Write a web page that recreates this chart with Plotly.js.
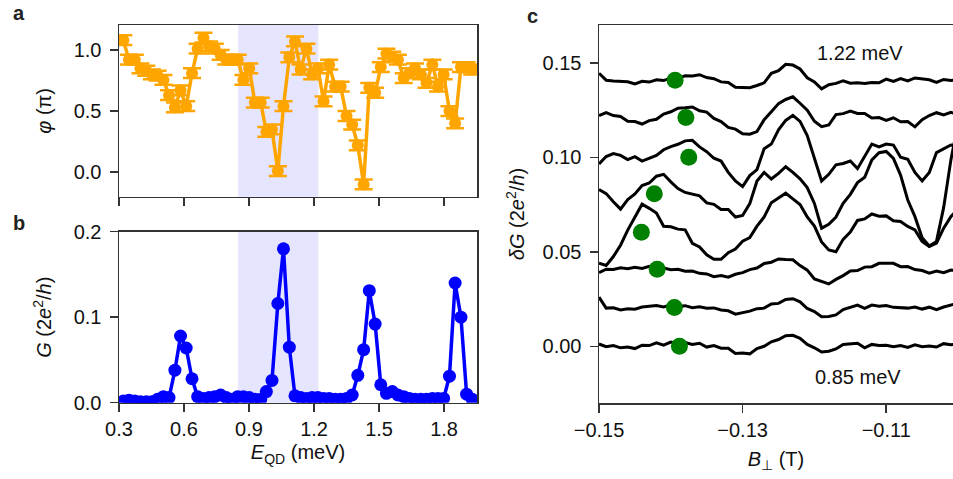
<!DOCTYPE html>
<html>
<head>
<meta charset="utf-8">
<script src="https://cdn.plot.ly/plotly-3.0.1.min.js"></script>
<style>html,body{margin:0;padding:0;background:#fff;}#chart{width:953px;height:479px;}</style>
</head>
<body>
<div id="chart"></div>
<script>
// ---- Panel a / b data (shared energy axis, meV) ----
const energy = [0.320,0.346,0.373,0.399,0.426,0.452,0.478,0.505,0.531,0.558,0.584,0.610,0.637,0.663,0.690,0.716,0.742,0.769,0.795,0.822,0.848,0.874,0.901,0.927,0.954,0.980,1.006,1.033,1.059,1.086,1.112,1.138,1.165,1.191,1.218,1.244,1.270,1.297,1.323,1.350,1.376,1.402,1.429,1.455,1.482,1.508,1.534,1.561,1.587,1.614,1.640,1.666,1.693,1.719,1.746,1.772,1.798,1.825,1.851,1.878,1.904,1.930];
const phase = [1.08,0.92,0.92,0.85,0.83,0.80,0.79,0.755,0.63,0.53,0.67,0.54,0.81,1.01,1.10,1.03,1.01,0.96,0.92,0.92,0.92,0.755,0.85,0.57,0.57,0.33,0.35,0.01,0.54,0.94,1.07,0.84,1.01,0.80,0.85,0.58,0.88,0.70,0.70,0.46,0.39,0.22,-0.10,0.69,0.65,0.86,0.97,0.945,0.92,0.77,0.81,0.85,0.80,0.73,0.88,0.70,0.80,0.50,0.40,0.86,0.86,0.84];
const phaseErr = [0.04,0.04,0.04,0.04,0.04,0.04,0.04,0.04,0.04,0.04,0.04,0.04,0.04,0.04,0.04,0.04,0.04,0.04,0.04,0.04,0.04,0.04,0.04,0.04,0.04,0.04,0.04,0.04,0.04,0.04,0.04,0.04,0.04,0.04,0.04,0.04,0.04,0.04,0.04,0.04,0.04,0.04,0.04,0.04,0.04,0.04,0.04,0.04,0.04,0.04,0.04,0.04,0.04,0.04,0.04,0.04,0.04,0.04,0.04,0.04,0.04,0.04];
const conductance = [0.002,0.003,0.002,0.001,0.001,0.001,0.004,0.007,0.006,0.038,0.078,0.064,0.028,0.007,0.005,0.006,0.007,0.009,0.006,0.004,0.007,0.007,0.006,0.004,0.004,0.013,0.026,0.116,0.180,0.065,0.008,0.006,0.005,0.006,0.006,0.005,0.005,0.004,0.004,0.005,0.009,0.032,0.062,0.131,0.092,0.021,0.011,0.013,0.009,0.007,0.005,0.004,0.004,0.004,0.005,0.005,0.005,0.031,0.140,0.100,0.010,0.004];
const shadeRange = [0.85, 1.22];
const xTicksE = [0.3,0.6,0.9,1.2,1.5,1.8];

// ---- Panel c data ----
const bField = [-0.150,-0.149,-0.148,-0.147,-0.146,-0.145,-0.144,-0.143,-0.142,-0.141,-0.140,-0.139,-0.138,-0.137,-0.136,-0.135,-0.134,-0.133,-0.132,-0.131,-0.130,-0.129,-0.128,-0.127,-0.126,-0.125,-0.124,-0.123,-0.122,-0.121,-0.120,-0.119,-0.118,-0.117,-0.116,-0.115,-0.114,-0.113,-0.112,-0.111,-0.110,-0.109,-0.108,-0.107,-0.106,-0.105,-0.104,-0.103,-0.102,-0.101,-0.100];
const curve085 = [0.0012,-0.0002,0.0004,-0.0008,-0.0004,-0.0012,0.0006,0.0004,0.0018,0.0006,0.0022,0.0014,0.0020,0.0010,0.0016,-0.0004,0.0004,-0.0010,-0.0010,-0.0038,-0.0036,-0.0040,-0.0012,0.0000,0.0024,0.0036,0.0056,0.0058,0.0042,0.0010,-0.0008,-0.0030,-0.0026,-0.0014,0.0010,0.0014,0.0016,-0.0008,0.0010,0.0004,0.0006,-0.0002,0.0004,-0.0006,0.0008,-0.0002,0.0002,-0.0004,0.0014,0.0008,0.0014];
const curve2 = [0.0260,0.0202,0.0204,0.0192,0.0199,0.0196,0.0208,0.0210,0.0216,0.0208,0.0218,0.0210,0.0215,0.0204,0.0209,0.0201,0.0203,0.0192,0.0188,0.0170,0.0178,0.0186,0.0199,0.0202,0.0224,0.0227,0.0248,0.0252,0.0235,0.0200,0.0184,0.0157,0.0158,0.0166,0.0194,0.0206,0.0218,0.0201,0.0218,0.0212,0.0216,0.0206,0.0203,0.0202,0.0208,0.0197,0.0207,0.0194,0.0208,0.0218,0.0228];
const curve3 = [0.0390,0.0408,0.0406,0.0416,0.0410,0.0418,0.0412,0.0423,0.0412,0.0414,0.0405,0.0408,0.0397,0.0398,0.0386,0.0383,0.0368,0.0374,0.0366,0.0381,0.0390,0.0406,0.0414,0.0438,0.0445,0.0462,0.0459,0.0458,0.0427,0.0403,0.0356,0.0341,0.0330,0.0354,0.0374,0.0399,0.0401,0.0419,0.0421,0.0439,0.0438,0.0439,0.0421,0.0422,0.0406,0.0401,0.0387,0.0398,0.0389,0.0403,0.0401];
const curve4 = [0.0440,0.0428,0.0475,0.0535,0.0615,0.0685,0.0752,0.0730,0.0705,0.0635,0.0632,0.0620,0.0616,0.0545,0.0526,0.0484,0.0460,0.0460,0.0495,0.0515,0.0556,0.0575,0.0636,0.0684,0.0760,0.0785,0.0810,0.0780,0.0750,0.0684,0.0636,0.0552,0.0510,0.0500,0.0566,0.0604,0.0666,0.0674,0.0700,0.0688,0.0690,0.0664,0.0660,0.0634,0.0616,0.0555,0.0528,0.0546,0.0625,0.0686,0.0724];
const curve5 = [0.0830,0.0808,0.0765,0.0726,0.0776,0.0806,0.0851,0.0864,0.0900,0.0910,0.0870,0.0835,0.0814,0.0804,0.0796,0.0759,0.0751,0.0724,0.0724,0.0684,0.0692,0.0755,0.0875,0.0920,0.0885,0.0915,0.0950,0.0920,0.0886,0.0840,0.0756,0.0625,0.0646,0.0684,0.0756,0.0804,0.0866,0.0894,0.0986,0.1024,0.1031,0.0994,0.0906,0.0774,0.0686,0.0574,0.0531,0.0555,0.0735,0.0985,0.1180];
const curve6 = [0.0965,0.1004,0.1020,0.1010,0.0988,0.1003,0.0980,0.0995,0.1010,0.1040,0.1057,0.1069,0.1087,0.1090,0.1055,0.1030,0.0995,0.0980,0.0920,0.0875,0.0845,0.0903,0.0935,0.1045,0.1070,0.1145,0.1195,0.1222,0.1190,0.1115,0.0995,0.0875,0.0910,0.0960,0.0967,0.0980,0.0940,0.1005,0.1070,0.1055,0.1070,0.1065,0.1000,0.0989,0.0920,0.0875,0.0920,0.1025,0.1045,0.1065,0.1060];
const curve7 = [0.1220,0.1236,0.1221,0.1216,0.1191,0.1189,0.1176,0.1194,0.1201,0.1229,0.1241,0.1260,0.1262,0.1266,0.1246,0.1239,0.1206,0.1189,0.1158,0.1149,0.1124,0.1122,0.1136,0.1199,0.1241,0.1284,0.1306,0.1320,0.1286,0.1249,0.1191,0.1162,0.1171,0.1226,0.1231,0.1244,0.1232,0.1232,0.1208,0.1210,0.1195,0.1209,0.1188,0.1189,0.1161,0.1199,0.1221,0.1236,0.1224,0.1238,0.1226];
const curve122 = [0.1445,0.1408,0.1404,0.1401,0.1400,0.1388,0.1402,0.1398,0.1410,0.1406,0.1420,0.1416,0.1432,0.1430,0.1437,0.1422,0.1416,0.1399,0.1396,0.1371,0.1370,0.1368,0.1380,0.1394,0.1444,0.1458,0.1492,0.1488,0.1467,0.1421,0.1399,0.1362,0.1384,0.1391,0.1405,0.1392,0.1394,0.1391,0.1396,0.1394,0.1414,0.1401,0.1416,0.1404,0.1420,0.1415,0.1410,0.1396,0.1412,0.1406,0.1410];
const curvesC = [curve085, curve2, curve3, curve4, curve5, curve6, curve7, curve122];
const dotB = [-0.1388,-0.1395,-0.1419,-0.1441,-0.1423,-0.1375,-0.1379,-0.1394];
const dotG = [0.0000,0.0205,0.0408,0.0604,0.0807,0.1000,0.1210,0.1408];
const xTicksB = [-0.15,-0.13,-0.11];
const yTicksC = [0,0.05,0.10,0.15];

const W = 953, H = 479;
const FONT = 'Liberation Sans, Arial, sans-serif';
const AXC = '#333333';
const px = (v) => v / W;
const py = (v) => 1 - v / H;

const traces = [];
traces.push({
  x: energy, y: phase, xaxis: 'x', yaxis: 'y', type: 'scatter', mode: 'lines+markers',
  line: {color: '#FFA500', width: 3.5}, marker: {color: '#FFA500', size: 12},
  error_y: {type: 'data', array: phaseErr, visible: true, color: '#FFA500', thickness: 2.5, width: 9},
  showlegend: false, hoverinfo: 'x+y'
});
traces.push({
  x: energy, y: conductance, xaxis: 'x2', yaxis: 'y2', type: 'scatter', mode: 'lines+markers',
  line: {color: '#0000FF', width: 3.5}, marker: {color: '#0000FF', size: 13},
  showlegend: false
});
curvesC.forEach((c) => {
  traces.push({x: bField, y: c, xaxis: 'x3', yaxis: 'y3', type: 'scatter', mode: 'lines',
    line: {color: '#000000', width: 3}, showlegend: false});
});
traces.push({x: dotB, y: dotG, xaxis: 'x3', yaxis: 'y3', type: 'scatter', mode: 'markers',
  marker: {color: '#008000', size: 17}, showlegend: false});

const tickFont = {family: FONT, size: 20, color: '#111'};
const titleFont = {family: FONT, size: 20, color: '#111'};
const baseAxis = {showline: true, linecolor: AXC, linewidth: 1.5, mirror: true, ticks: 'outside',
  ticklen: 8, tickwidth: 1.5, tickcolor: AXC, showgrid: false, zeroline: false, tickfont: tickFont, automargin: false};

const layout = {
  width: W, height: H, margin: {l: 0, r: 0, t: 0, b: 0}, paper_bgcolor: '#fff', plot_bgcolor: '#fff',
  font: {family: FONT, size: 20, color: '#111'},
  xaxis: Object.assign({}, baseAxis, {domain: [px(119), px(477)], range: [0.3, 1.952], tickvals: xTicksE, showticklabels: false, anchor: 'y'}),
  yaxis: Object.assign({}, baseAxis, {domain: [py(196.7), py(25)], range: [-0.2, 1.204], tickvals: [0, 0.5, 1.0], tickformat: '.1f', anchor: 'x', ticklabelstandoff: 4,
    title: {text: '<i>φ</i> (π)', font: titleFont, standoff: 16}}),
  xaxis2: Object.assign({}, baseAxis, {domain: [px(119), px(477)], range: [0.3, 1.952], tickvals: xTicksE, tickformat: '.1f', anchor: 'y2',
    title: {text: '<i>E</i><sub>QD</sub> (meV)', font: titleFont, standoff: 6}}),
  yaxis2: Object.assign({}, baseAxis, {domain: [py(402.7), py(231.7)], range: [0, 0.2], tickvals: [0, 0.1, 0.2], tickformat: '.1f', anchor: 'x2', ticklabelstandoff: 4,
    title: {text: '<i>G</i> (2<i>e</i><sup>2</sup>/<i>h</i>)', font: titleFont, standoff: 16}}),
  xaxis3: Object.assign({}, baseAxis, {domain: [px(599), 1], range: [-0.15, -0.1007], tickvals: xTicksB, tickformat: '.2f', anchor: 'y3',
    title: {text: '<i>B</i><sub>⊥</sub> (T)', font: titleFont, standoff: 12}}),
  yaxis3: Object.assign({}, baseAxis, {domain: [py(403), py(25)], range: [-0.03, 0.17], tickvals: yTicksC, tickformat: '.2f', anchor: 'x3', ticklabelstandoff: 4,
    title: {text: '<i>δG</i> (2<i>e</i><sup>2</sup>/<i>h</i>)', font: titleFont, standoff: 12}}),
  shapes: [
    {type: 'rect', xref: 'x', yref: 'y domain', x0: shadeRange[0], x1: shadeRange[1], y0: 0, y1: 1, fillcolor: 'rgba(0,0,255,0.1)', line: {width: 0}, layer: 'below'},
    {type: 'rect', xref: 'x2', yref: 'y2 domain', x0: shadeRange[0], x1: shadeRange[1], y0: 0, y1: 1, fillcolor: 'rgba(0,0,255,0.1)', line: {width: 0}, layer: 'below'}
  ],
  annotations: [
    {text: '<b>a</b>', xref: 'paper', yref: 'paper', x: px(11), y: py(13), xanchor: 'left', yanchor: 'middle', showarrow: false, font: {family: FONT, size: 20, color: '#222'}},
    {text: '<b>b</b>', xref: 'paper', yref: 'paper', x: px(11), y: py(223), xanchor: 'left', yanchor: 'middle', showarrow: false, font: {family: FONT, size: 20, color: '#222'}},
    {text: '<b>c</b>', xref: 'paper', yref: 'paper', x: px(525), y: py(16), xanchor: 'left', yanchor: 'middle', showarrow: false, font: {family: FONT, size: 20, color: '#222'}},
    {text: '1.22 meV', xref: 'x3', yref: 'y3', x: -0.1136, y: 0.1552, xanchor: 'center', yanchor: 'middle', showarrow: false, font: {family: FONT, size: 20, color: '#111'}},
    {text: '0.85 meV', xref: 'x3', yref: 'y3', x: -0.1139, y: -0.0161, xanchor: 'center', yanchor: 'middle', showarrow: false, font: {family: FONT, size: 20, color: '#111'}}
  ]
};

Plotly.newPlot('chart', traces, layout, {displayModeBar: false, staticPlot: true});
</script>
</body>
</html>
